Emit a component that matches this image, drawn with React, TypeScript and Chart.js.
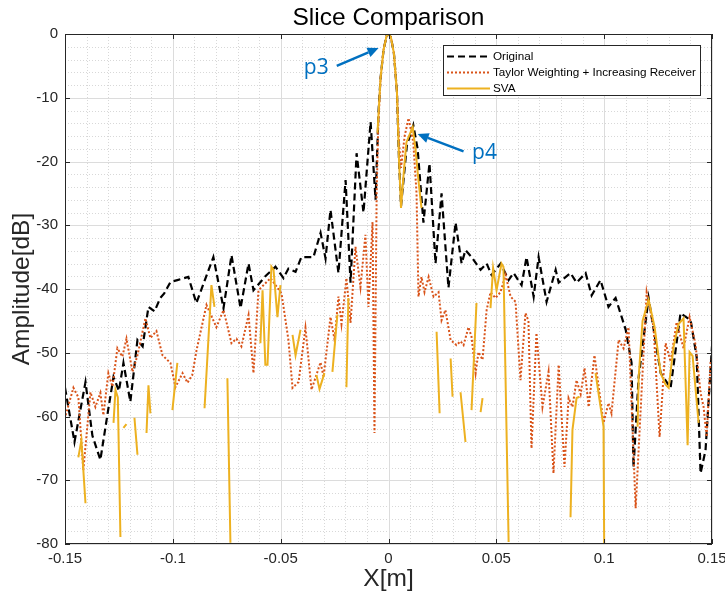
import React, { useEffect, useRef } from 'react';
import { Chart, registerables } from 'chart.js';

Chart.register(...registerables);

// ---------- Axis ticks ----------
const X_TICKS = [-0.15, -0.1, -0.05, 0, 0.05, 0.1, 0.15];
const X_TICK_LABELS = ['-0.15', '-0.1', '-0.05', '0', '0.05', '0.1', '0.15'];
const Y_TICKS = [0, -10, -20, -30, -40, -50, -60, -70, -80];
const Y_TICK_LABELS = ['0', '-10', '-20', '-30', '-40', '-50', '-60', '-70', '-80'];
const X_MINOR_STEP = 0.01;
const Y_MINOR_STEP = 2;

// ---------- Series: Original ----------
const ORIGINAL_X = [
  -0.150, -0.1456, -0.1405, -0.1373, -0.1336, -0.1300, -0.1275, -0.1250, -0.1229, -0.1197,
  -0.1164, -0.1140, -0.1113, -0.1085, -0.1058, -0.1040, -0.1011, -0.0979, -0.0928, -0.0891,
  -0.0812, -0.0765, -0.0728, -0.0686, -0.0649, -0.0626, -0.0571, -0.0524, -0.0487, -0.0464,
  -0.0431, -0.0404, -0.0348, -0.0315, -0.0292, -0.0269, -0.0232, -0.0199, -0.0176, -0.0148,
  -0.0116, -0.0083, -0.0060, -0.0046, -0.0037, -0.0023, -0.0009, 0, 0.0011, 0.0025,
  0.0039, 0.0049, 0.0058, 0.0085, 0.0115, 0.0135, 0.0162, 0.0190, 0.0218, 0.0246,
  0.0278, 0.0311, 0.0339, 0.0357, 0.0385, 0.0427, 0.0455, 0.0478, 0.0520, 0.0557,
  0.0580, 0.0617, 0.0640, 0.0673, 0.0696, 0.0733, 0.0775, 0.0789, 0.0844, 0.0872,
  0.0914, 0.0942, 0.0983, 0.1020, 0.1053, 0.1100, 0.1127, 0.1136, 0.1160, 0.1206,
  0.1262, 0.1308, 0.1354, 0.1401, 0.1429, 0.1447, 0.1470, 0.1500,
];
const ORIGINAL_Y = [
  -55.5, -64, -54.6, -63, -66.8, -59, -53.8, -56, -51.6, -57.7,
  -48, -49, -42.8, -43.5, -41.4, -40.7, -38.9, -38.6, -38.1, -42.2,
  -35, -43, -34.7, -43, -36, -40.2, -38, -36.5, -38.3, -36.8,
  -37.3, -35, -35, -31.2, -35.2, -27.6, -37.5, -22.9, -39, -18.7,
  -28, -13.8, -26, -12, -7, -2.5, -0.3, 0, -0.5, -3,
  -9, -20, -27, -17.5, -14.3, -18, -29.6, -20.3, -36, -25,
  -39.8, -29.6, -36, -33.9, -35, -37, -36, -37.8, -36, -38.6,
  -37.5, -39.4, -35, -41.2, -35, -42, -37, -39, -37.5, -39,
  -37.5, -41, -38.6, -42.8, -41.4, -46.4, -51.6, -68, -53.8, -41.4,
  -53.2, -55.5, -43.8, -44.9, -50.7, -68.9, -65.3, -49,
];

// ---------- Series: Taylor Weighting + Increasing Receiver ----------
const TAYLOR_X = [
  -0.1507, -0.1461, -0.1438, -0.1415, -0.1382, -0.1359, -0.1336, -0.1322, -0.1299, -0.1280,
  -0.1257, -0.1234, -0.1215, -0.1187, -0.1164, -0.1127, -0.1104, -0.1076, -0.1048, -0.1011,
  -0.0988, -0.0955, -0.0932, -0.0910, -0.0890, -0.0844, -0.0798, -0.0765, -0.0728, -0.0705,
  -0.0682, -0.0649, -0.0626, -0.0603, -0.0547, -0.0496, -0.0464, -0.0445, -0.0417, -0.0385,
  -0.0357, -0.0315, -0.0301, -0.0269, -0.0250, -0.0232, -0.0218, -0.0195, -0.0176, -0.0153,
  -0.0130, -0.0107, -0.0093, -0.0074, -0.0065, -0.0055, -0.0048, -0.0037, -0.0023, -0.0009,
  0, 0.0011, 0.0025, 0.0039, 0.0049, 0.0058, 0.0075, 0.0093, 0.0115, 0.0130,
  0.0139, 0.0153, 0.0167, 0.0186, 0.0209, 0.0232, 0.0246, 0.0264, 0.0288, 0.0315,
  0.0334, 0.0348, 0.0371, 0.0385, 0.0404, 0.0417, 0.0436, 0.0455, 0.0473, 0.0496,
  0.0519, 0.0543, 0.0566, 0.0589, 0.0612, 0.0635, 0.0649, 0.0663, 0.0686, 0.0714,
  0.0742, 0.0765, 0.0789, 0.0816, 0.0835, 0.0853, 0.0872, 0.0891, 0.0909, 0.0928,
  0.0955, 0.0997, 0.1020, 0.1034, 0.1067, 0.1090, 0.1113, 0.1146, 0.1197, 0.1229,
  0.1257, 0.1285, 0.1308, 0.1336, 0.1368, 0.1396, 0.1424, 0.1447, 0.1461, 0.1475,
  0.1494,
];
const TAYLOR_Y = [
  -61, -55.5, -57, -68.4, -56.2, -58.5, -56.3, -59.8, -53.2, -55.3,
  -49.3, -50.6, -47.8, -53, -50.4, -44.6, -47.7, -46.6, -50.4, -51.6,
  -55.4, -53.2, -54.7, -53.5, -49.6, -42.5, -46, -43.3, -48.5, -47.8,
  -49, -44.1, -53.2, -40.2, -38.3, -40.7, -48, -55.5, -54.6, -46.1,
  -55.8, -51.5, -53.8, -44.4, -48, -41.2, -45.5, -38.3, -45.3, -33.4,
  -39.7, -31.5, -42.8, -29.5, -62.6, -25, -15, -7, -2.5, -0.3,
  0, -0.5, -3, -9, -17, -21, -16, -13.2, -17, -25,
  -41.2, -38.1, -40.5, -38.1, -41.2, -40.5, -44.9, -43.3, -48, -48.8,
  -48.2, -48.8, -46, -47.5, -53.2, -49.9, -51.1, -43.3, -40.5, -41.4,
  -40.5, -37.8, -41.2, -42, -54.3, -43.8, -45, -65, -46.9, -58.5,
  -53, -68.9, -51.9, -67.9, -57.1, -58.5, -54.3, -56.5, -52.4, -58.5,
  -50.4, -61, -57.9, -59.5, -48, -49.3, -46, -74.4, -40.5, -46,
  -63.2, -48.5, -51.4, -45.2, -49.3, -44.4, -48.8, -56.3, -58.5, -63.2,
  -51.1,
];

// ---------- Series: SVA (null = gap between segments) ----------
const SVA_X = [
  -0.1438, -0.1424, -0.1405, null,
  -0.1275, -0.1266, -0.1255, -0.1243, null,
  -0.1229, -0.1215, null,
  -0.1178, -0.1164, null,
  -0.1122, -0.1113, -0.1104, null,
  -0.1002, -0.0979, null,
  -0.0853, -0.0821, -0.0807, null,
  -0.0747, -0.0733, null,
  -0.0594, -0.0584, -0.0571, -0.0561, -0.0543, -0.0533, -0.0515, -0.0501, null,
  -0.0445, -0.0431, -0.0408, null,
  -0.0334, -0.0320, -0.0297, null,
  -0.0260, -0.0237, null,
  -0.0195, -0.0186, null,
  -0.0051, -0.0037, -0.0023, -0.0009, 0, 0.0011, 0.0025, 0.0039, 0.0049, 0.0058,
  0.0070, 0.0083, 0.0112, 0.0125, 0.0139, 0.0153, null,
  0.0223, 0.0237, null,
  0.0288, 0.0297, null,
  0.0334, 0.0357, null,
  0.0385, 0.0408, null,
  0.0427, 0.0436, null,
  0.0473, 0.0485, 0.0501, 0.0524, 0.0533, 0.0557, null,
  0.0844, 0.0853, 0.0872, 0.0886, null,
  0.0960, 0.0997, 0.1000, null,
  0.1155, 0.1160, 0.1178, 0.1206, 0.1234, 0.1262, 0.1285, 0.1299, 0.1322, 0.1345,
  0.1368, 0.1387, 0.1396, 0.1410, 0.1438,
];
const SVA_Y = [
  -66.4, -63.7, -73.6, null,
  -61, -55.8, -57, -78.9, null,
  -61.8, -61.2, null,
  -60.2, -66, null,
  -62.6, -55.1, -59.5, null,
  -59, -51.6, null,
  -58.7, -39.4, -42.8, null,
  -54, -79.8, null,
  -48.5, -40.2, -51.9, -51.9, -36.5, -37, -44.4, -39.4, null,
  -47.2, -50.4, -46.4, null,
  -53.5, -55.7, -53.2, null,
  -53, -44, null,
  -55.4, -41.4, null,
  -15.5, -7, -2.5, -0.3, 0, -0.5, -3, -9, -20, -27.3,
  -22, -17, -14.6, -18, -23, -27.3, null,
  -46.7, -59.5, null,
  -50.9, -56.9, null,
  -56.2, -64, null,
  -59, -42.2, null,
  -59.3, -57.1, null,
  -43, -36.7, -40.2, -36, -36.5, -79.7, null,
  -75.8, -62.1, -57.1, -56.9, null,
  -53.2, -61.6, -80, null,
  -61.6, -53.8, -45, -41.7, -46, -53.2, -55, -55.5, -49, -45.5,
  -44.6, -64.5, -49.9, -50.5, -61,
];

const SERIES_LABELS = ['Original', 'Taylor Weighting + Increasing Receiver', 'SVA'];
const SERIES_COLORS = ['#000000', '#D95319', '#EDB120'];

// annotations in data coordinates
const P3_TEXT = { x: -0.0335, y: -5.3 };
const P3_ARROW = { x0: -0.0240, y0: -5.0, x1: -0.0046, y1: -2.2 };
const P4_TEXT = { x: 0.0445, y: -18.7 };
const P4_ARROW = { x0: 0.0348, y0: -18.4, x1: 0.0135, y1: -15.7 };

const FONT = '"Liberation Sans", Arial, Helvetica, sans-serif';
const AXIS_COLOR = '#262626';

function toPoints(xs: (number | null)[], ys: (number | null)[]) {
  const pts: { x: number; y: number | null }[] = [];
  let lastX = xs[0] as number;
  for (let i = 0; i < xs.length; i++) {
    if (xs[i] === null || ys[i] === null) {
      pts.push({ x: lastX, y: null });
    } else {
      lastX = xs[i] as number;
      pts.push({ x: xs[i] as number, y: ys[i] as number });
    }
  }
  return pts;
}

function isMajor(list: number[], v: number) {
  return list.findIndex((t) => Math.abs(t - v) < 1e-9);
}

function drawArrow(ctx: CanvasRenderingContext2D, x0: number, y0: number, x1: number, y1: number) {
  const ang = Math.atan2(y1 - y0, x1 - x0);
  const headLen = 11;
  const headW = 5;
  const bx = x1 - headLen * Math.cos(ang);
  const by = y1 - headLen * Math.sin(ang);
  ctx.beginPath();
  ctx.moveTo(x0, y0);
  ctx.lineTo(bx, by);
  ctx.stroke();
  ctx.beginPath();
  ctx.moveTo(x1, y1);
  ctx.lineTo(bx + headW * Math.sin(ang), by - headW * Math.cos(ang));
  ctx.lineTo(bx - headW * Math.sin(ang), by + headW * Math.cos(ang));
  ctx.closePath();
  ctx.fill();
}

const decorPlugin = {
  id: 'matlabDecor',
  beforeDatasetsDraw(chart: any) {
    const { ctx, chartArea: a, scales } = chart;
    const xs = scales.x;
    const ys = scales.y;
    ctx.save();
    ctx.lineWidth = 1;
    // minor dotted grid
    ctx.strokeStyle = '#d8d8d8';
    ctx.setLineDash([1, 2]);
    xs.ticks.forEach((t: any) => {
      if (isMajor(X_TICKS, t.value) >= 0) return;
      const p = Math.round(xs.getPixelForValue(t.value)) + 0.5;
      ctx.beginPath();
      ctx.moveTo(p, a.top);
      ctx.lineTo(p, a.bottom);
      ctx.stroke();
    });
    ys.ticks.forEach((t: any) => {
      if (isMajor(Y_TICKS, t.value) >= 0) return;
      const p = Math.round(ys.getPixelForValue(t.value)) + 0.5;
      ctx.beginPath();
      ctx.moveTo(a.left, p);
      ctx.lineTo(a.right, p);
      ctx.stroke();
    });
    // major solid grid
    ctx.setLineDash([]);
    ctx.strokeStyle = '#dcdcdc';
    X_TICKS.forEach((v) => {
      const p = Math.round(xs.getPixelForValue(v)) + 0.5;
      ctx.beginPath();
      ctx.moveTo(p, a.top);
      ctx.lineTo(p, a.bottom);
      ctx.stroke();
    });
    Y_TICKS.forEach((v) => {
      const p = Math.round(ys.getPixelForValue(v)) + 0.5;
      ctx.beginPath();
      ctx.moveTo(a.left, p);
      ctx.lineTo(a.right, p);
      ctx.stroke();
    });
    ctx.restore();
  },
  afterDatasetsDraw(chart: any) {
    const { ctx, chartArea: a, scales } = chart;
    const xs = scales.x;
    const ys = scales.y;
    ctx.save();
    // axes box
    ctx.strokeStyle = AXIS_COLOR;
    ctx.lineWidth = 1;
    ctx.strokeRect(Math.round(a.left) + 0.5, Math.round(a.top) + 0.5, Math.round(a.right - a.left) - 1, Math.round(a.bottom - a.top) - 1);
    // inward ticks
    const tl = 5;
    ctx.beginPath();
    X_TICKS.forEach((v) => {
      const p = Math.round(xs.getPixelForValue(v)) + 0.5;
      ctx.moveTo(p, a.bottom);
      ctx.lineTo(p, a.bottom - tl);
      ctx.moveTo(p, a.top);
      ctx.lineTo(p, a.top + tl);
    });
    Y_TICKS.forEach((v) => {
      const p = Math.round(ys.getPixelForValue(v)) + 0.5;
      ctx.moveTo(a.left, p);
      ctx.lineTo(a.left + tl, p);
      ctx.moveTo(a.right, p);
      ctx.lineTo(a.right - tl, p);
    });
    ctx.stroke();

    // legend
    const lw = 257;
    const lh = 50;
    const lx = a.right - 12 - lw;
    const ly = a.top + 11;
    ctx.fillStyle = '#ffffff';
    ctx.fillRect(lx, ly, lw, lh);
    ctx.strokeStyle = AXIS_COLOR;
    ctx.lineWidth = 1;
    ctx.strokeRect(Math.round(lx) + 0.5, Math.round(ly) + 0.5, lw, lh);
    const rows = [ly + 10.5, ly + 27, ly + 43];
    chart.data.datasets.forEach((ds: any, i: number) => {
      const yy = Math.round(rows[i]) + 0.5;
      ctx.save();
      ctx.strokeStyle = ds.borderColor;
      ctx.lineWidth = ds.borderWidth;
      ctx.setLineDash(ds.borderDash || []);
      ctx.beginPath();
      ctx.moveTo(lx + 4, yy);
      ctx.lineTo(lx + 47, yy);
      ctx.stroke();
      ctx.restore();
      ctx.fillStyle = '#000';
      ctx.font = `11.7px ${FONT}`;
      ctx.textBaseline = 'middle';
      ctx.textAlign = 'left';
      ctx.fillText(SERIES_LABELS[i], lx + 50, yy);
    });

    // annotations
    ctx.strokeStyle = '#0070C0';
    ctx.fillStyle = '#0070C0';
    ctx.lineWidth = 2.5;
    drawArrow(ctx, xs.getPixelForValue(P3_ARROW.x0), ys.getPixelForValue(P3_ARROW.y0), xs.getPixelForValue(P3_ARROW.x1), ys.getPixelForValue(P3_ARROW.y1));
    drawArrow(ctx, xs.getPixelForValue(P4_ARROW.x0), ys.getPixelForValue(P4_ARROW.y0), xs.getPixelForValue(P4_ARROW.x1), ys.getPixelForValue(P4_ARROW.y1));
    ctx.font = `21px "Open Sans", "Noto Sans", sans-serif`;
    ctx.textAlign = 'center';
    ctx.textBaseline = 'middle';
    ctx.fillText('p3', xs.getPixelForValue(P3_TEXT.x), ys.getPixelForValue(P3_TEXT.y));
    ctx.fillText('p4', xs.getPixelForValue(P4_TEXT.x), ys.getPixelForValue(P4_TEXT.y));

    // title and axis labels
    ctx.fillStyle = '#000';
    ctx.font = `24.5px ${FONT}`;
    ctx.textAlign = 'center';
    ctx.textBaseline = 'middle';
    ctx.fillText('Slice Comparison', (a.left + a.right) / 2, 18);
    ctx.fillStyle = AXIS_COLOR;
    ctx.fillText('X[m]', (a.left + a.right) / 2, 579);
    ctx.save();
    ctx.translate(22, (a.top + a.bottom) / 2);
    ctx.rotate(-Math.PI / 2);
    ctx.fillText('Amplitude[dB]', 0, 0);
    ctx.restore();
    ctx.restore();
  },
};

export default function App() {
  const ref = useRef<HTMLCanvasElement | null>(null);
  useEffect(() => {
    if (!ref.current) return;
    const chart = new Chart(ref.current, {
      type: 'line',
      data: {
        datasets: [
          {
            label: SERIES_LABELS[0],
            data: toPoints(ORIGINAL_X, ORIGINAL_Y),
            borderColor: SERIES_COLORS[0],
            borderWidth: 2.2,
            borderDash: [7, 4],
            pointRadius: 0,
            tension: 0,
            order: 3,
          },
          {
            label: SERIES_LABELS[1],
            data: toPoints(TAYLOR_X, TAYLOR_Y),
            borderColor: SERIES_COLORS[1],
            borderWidth: 2,
            borderDash: [2, 2],
            pointRadius: 0,
            tension: 0,
            order: 2,
          },
          {
            label: SERIES_LABELS[2],
            data: toPoints(SVA_X as any, SVA_Y as any),
            borderColor: SERIES_COLORS[2],
            borderWidth: 2,
            pointRadius: 0,
            tension: 0,
            spanGaps: false,
            order: 1,
          },
        ] as any,
      },
      options: {
        animation: false,
        responsive: false,
        devicePixelRatio: 1,
        events: [],
        layout: { padding: { left: 0, top: 34, right: 13, bottom: 0 } },
        plugins: { legend: { display: false }, tooltip: { enabled: false }, title: { display: false } },
        scales: {
          x: {
            type: 'linear',
            min: -0.15,
            max: 0.15,
            grid: { display: false, drawTicks: false },
            border: { display: false },
            afterBuildTicks: (s: any) => {
              const out = [];
              const n = Math.round((0.15 - -0.15) / X_MINOR_STEP);
              for (let i = 0; i <= n; i++) out.push({ value: -0.15 + i * X_MINOR_STEP });
              s.ticks = out;
            },
            afterFit: (s: any) => {
              s.height = 57;
              s.paddingLeft = 0;
              s.paddingRight = 0;
            },
            ticks: {
              autoSkip: false,
              maxRotation: 0,
              minRotation: 0,
              padding: 6,
              color: AXIS_COLOR,
              font: { family: FONT, size: 15 },
              callback: (v: any) => {
                const i = isMajor(X_TICKS, Number(v));
                return i >= 0 ? X_TICK_LABELS[i] : '';
              },
            },
          },
          y: {
            type: 'linear',
            min: -80,
            max: 0,
            grid: { display: false, drawTicks: false },
            border: { display: false },
            afterBuildTicks: (s: any) => {
              const out = [];
              const n = Math.round(80 / Y_MINOR_STEP);
              for (let i = 0; i <= n; i++) out.push({ value: -80 + i * Y_MINOR_STEP });
              s.ticks = out;
            },
            afterFit: (s: any) => {
              s.width = 65;
              s.paddingTop = 0;
              s.paddingBottom = 0;
            },
            ticks: {
              autoSkip: false,
              padding: 7,
              color: AXIS_COLOR,
              font: { family: FONT, size: 15 },
              callback: (v: any) => {
                const i = isMajor(Y_TICKS, Number(v));
                return i >= 0 ? Y_TICK_LABELS[i] : '';
              },
            },
          },
        },
      } as any,
      plugins: [decorPlugin as any],
    });
    return () => chart.destroy();
  }, []);
  return (
    <div style={{ position: 'absolute', left: 0, top: 0, width: 725, height: 601, background: '#ffffff' }}>
      <canvas ref={ref} width={725} height={601} style={{ display: 'block', width: 725, height: 601 }} />
    </div>
  );
}
